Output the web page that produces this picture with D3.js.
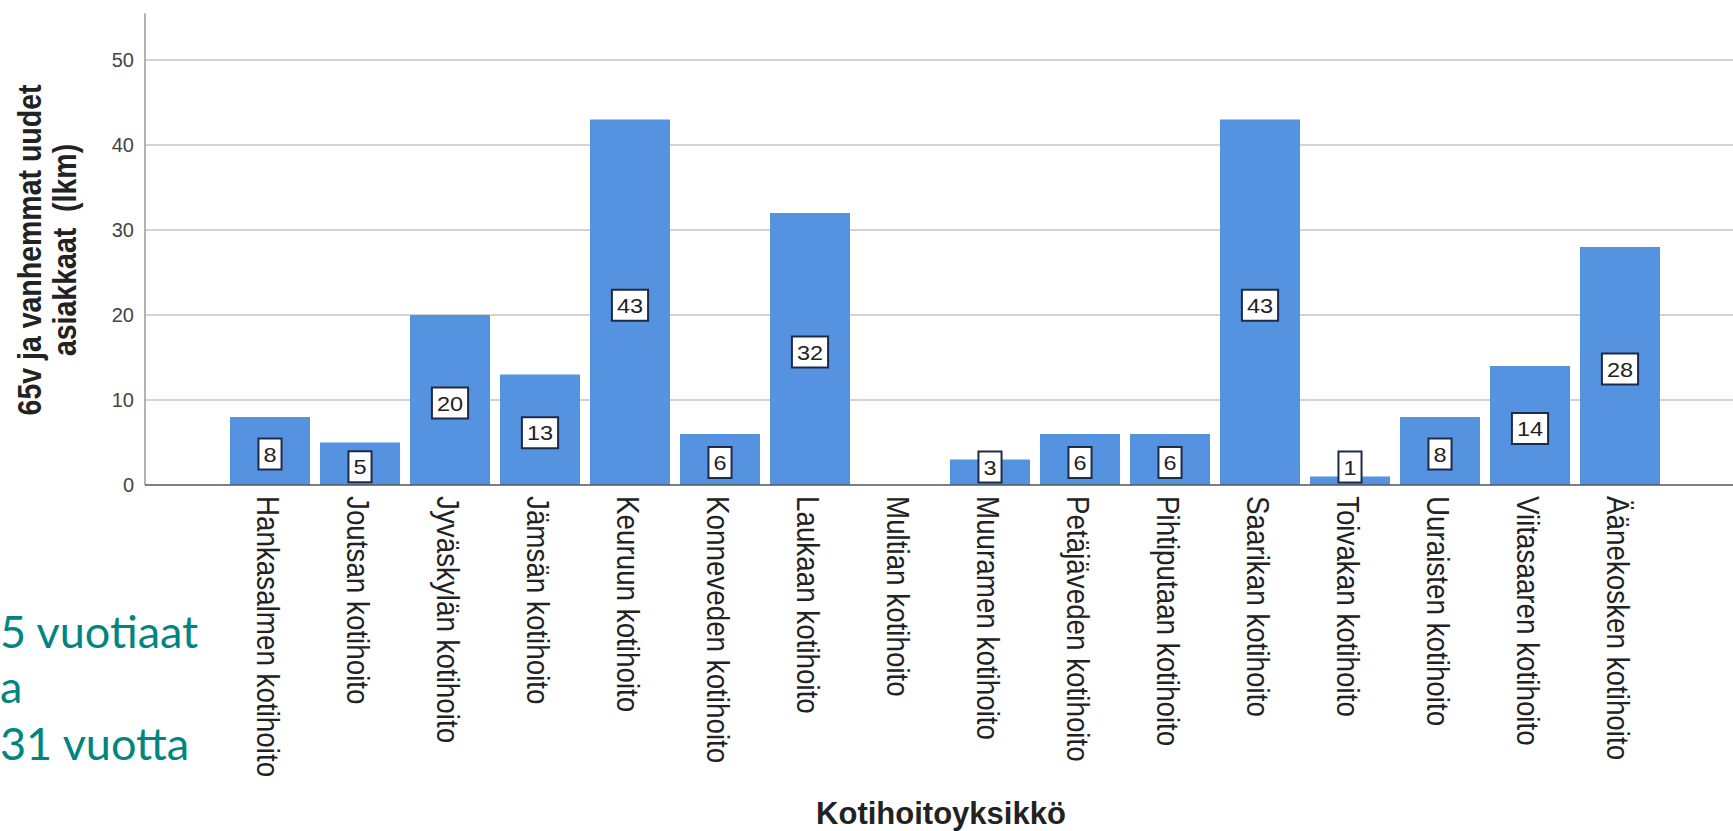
<!DOCTYPE html>
<html>
<head>
<meta charset="utf-8">
<script src="https://cdn.jsdelivr.net/npm/d3@7"></script>
<style>
  html, body { margin: 0; padding: 0; background: #ffffff; overflow: hidden; }
  svg { display: block; }
</style>
</head>
<body>
<svg id="chart" width="1733" height="831"></svg>
<script>
const categories = [
  "Hankasalmen kotihoito", "Joutsan kotihoito", "Jyväskylän kotihoito", "Jämsän kotihoito",
  "Keuruun kotihoito", "Konneveden kotihoito", "Laukaan kotihoito", "Multian kotihoito",
  "Muuramen kotihoito", "Petäjäveden kotihoito", "Pihtiputaan kotihoito", "Saarikan kotihoito",
  "Toivakan kotihoito", "Uuraisten kotihoito", "Viitasaaren kotihoito", "Äänekosken kotihoito"
];
const values = [8, 5, 20, 13, 43, 6, 32, 0, 3, 6, 6, 43, 1, 8, 14, 28];
const yTicks = [0, 10, 20, 30, 40, 50];
const yTitleLines = ["65v ja vanhemmat uudet", "asiakkaat  (lkm)"];
const xTitle = "Kotihoitoyksikkö";
const sideTextLines = ["5 vuotiaat", "a", "31 vuotta"];

const svg = d3.select("#chart");
const W = 1733, H = 831;
const axisX = 145, baseY = 485;

const x = d3.scaleBand().domain(categories).range([150, 1740])
  .paddingInner(1/9).paddingOuter(8/9);
const y = d3.scaleLinear().domain([0, 50]).range([baseY, 60]);

// gridlines
svg.append("g").selectAll("line").data(yTicks.filter(d => d > 0)).join("line")
  .attr("x1", axisX).attr("x2", W)
  .attr("y1", d => y(d)).attr("y2", d => y(d))
  .attr("stroke", "#c4c4c4").attr("stroke-width", 1.5);

// y axis line
svg.append("line").attr("x1", axisX).attr("x2", axisX)
  .attr("y1", y(55.5)).attr("y2", baseY)
  .attr("stroke", "#9a9a9a").attr("stroke-width", 1.5);

// y tick labels
svg.append("g").selectAll("text").data(yTicks).join("text")
  .attr("x", 134).attr("y", d => y(d)).attr("dy", "0.36em")
  .attr("text-anchor", "end")
  .attr("font-family", "Liberation Sans, Arial, sans-serif")
  .attr("font-size", 20).attr("fill", "#444")
  .text(d => d);

// bars
svg.append("g").selectAll("rect").data(categories).join("rect")
  .attr("x", d => x(d)).attr("width", x.bandwidth())
  .attr("y", (d, i) => y(values[i]))
  .attr("height", (d, i) => baseY - y(values[i]))
  .attr("fill", "#5592df");

// baseline
svg.append("line").attr("x1", axisX).attr("x2", W)
  .attr("y1", baseY).attr("y2", baseY)
  .attr("stroke", "#555").attr("stroke-width", 1.5);

// value labels
const lab = svg.append("g").selectAll("g").data(categories.map((c, i) => ({c, v: values[i]})).filter(d => d.v > 0)).join("g")
  .attr("transform", d => {
    const cx = x(d.c) + x.bandwidth() / 2;
    const cy = Math.min((y(d.v) + baseY) / 2 + 3, 467);
    return `translate(${cx},${cy})`;
  });
lab.each(function(d) {
  const g = d3.select(this);
  const t = g.append("text")
    .attr("text-anchor", "middle").attr("dy", "0.36em")
    .attr("font-family", "Liberation Sans, Arial, sans-serif")
    .attr("font-size", 21).attr("fill", "#222")
    .attr("transform", "scale(1.12,1)")
    .text(d.v);
  const w = t.node().getComputedTextLength() * 1.12 + 10;
  g.insert("rect", "text")
    .attr("x", -w / 2).attr("y", -15.5).attr("width", w).attr("height", 31)
    .attr("fill", "#fff").attr("stroke", "#1d2b4a").attr("stroke-width", 2);
});

// x tick labels (rotated)
svg.append("g").selectAll("text").data(categories).join("text")
  .attr("transform", d => `translate(${x(d) + x.bandwidth() / 2 - 2},${baseY + 11}) scale(1.12,1) rotate(90)`)
  .attr("dy", "0.35em")
  .attr("text-anchor", "start")
  .attr("font-family", "Liberation Sans, Arial, sans-serif")
  .attr("font-size", 27.8).attr("fill", "#222")
  .text(d => d);

// y title
svg.append("g").selectAll("text").data(yTitleLines).join("text")
  .attr("transform", (d, i) => `translate(${i === 0 ? 41 : 76},250) scale(1.15,1) rotate(-90)`)
  .attr("text-anchor", "middle")
  .attr("font-family", "Liberation Sans, Arial, sans-serif")
  .attr("font-weight", "bold")
  .attr("font-size", 28.5).attr("fill", "#222")
  .style("white-space", "pre")
  .text(d => d);

// x title
svg.append("text")
  .attr("x", 941).attr("y", 824)
  .attr("text-anchor", "middle")
  .attr("font-family", "Liberation Sans, Arial, sans-serif")
  .attr("font-weight", "bold")
  .attr("font-size", 31).attr("fill", "#222")
  .text(xTitle);

// side text (from underlying slide)
svg.append("g").selectAll("text").data(sideTextLines).join("text")
  .attr("x", 0)
  .attr("y", (d, i) => [648, 703, 760][i])
  .attr("font-family", "Lato, 'Open Sans', sans-serif")
  .attr("font-size", 45).attr("fill", "#008580")
  .text(d => d);
</script>
</body>
</html>
